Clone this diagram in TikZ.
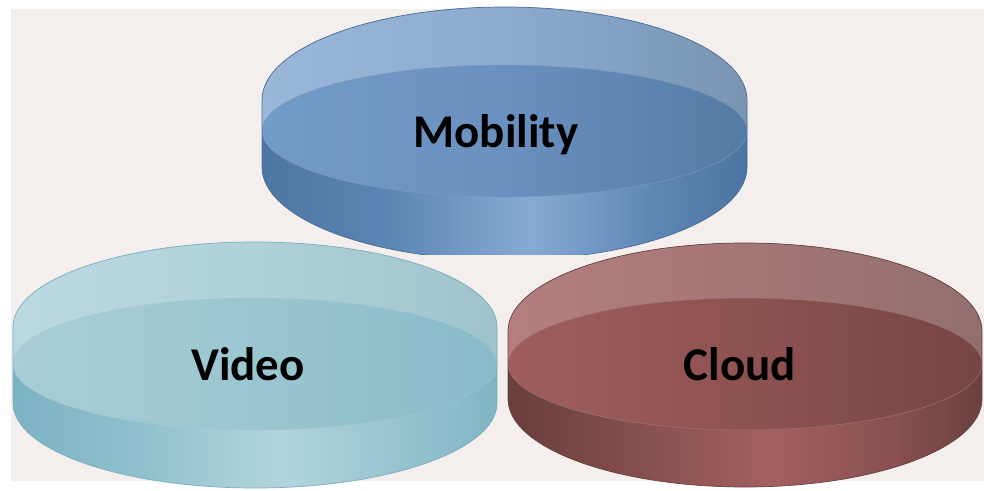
\documentclass[tikz,border=0pt]{standalone}
\usepackage{fontspec}
\setmainfont{Carlito}
\definecolor{bgc}{HTML}{F4EFEC}
% Mobility
\definecolor{mobA}{HTML}{4E76A2}\definecolor{mobB}{HTML}{5A84B3}\definecolor{mobC}{HTML}{87AAD4}\definecolor{mobD}{HTML}{5F88B7}\definecolor{mobE}{HTML}{4C74A0}
\definecolor{mobR1}{HTML}{9AB7D8}\definecolor{mobR2}{HTML}{8DABCF}\definecolor{mobR3}{HTML}{7994B3}
\definecolor{mobI1}{HTML}{739BC8}\definecolor{mobI2}{HTML}{6990BF}\definecolor{mobI3}{HTML}{557AA5}
\definecolor{mobL}{HTML}{4A6F9A}
% Video
\definecolor{vidA}{HTML}{7BB2C2}\definecolor{vidB}{HTML}{8FC0CD}\definecolor{vidC}{HTML}{B2D4DD}\definecolor{vidD}{HTML}{96C4D0}\definecolor{vidE}{HTML}{80B5C4}
\definecolor{vidR1}{HTML}{BCD8E0}\definecolor{vidR2}{HTML}{B0D1DA}\definecolor{vidR3}{HTML}{9FC3CC}
\definecolor{vidI1}{HTML}{A9CDD7}\definecolor{vidI2}{HTML}{9BC6D1}\definecolor{vidI3}{HTML}{88BAC8}
\definecolor{vidL}{HTML}{7AAEBE}
% Cloud
\definecolor{clA}{HTML}{6A3E3D}\definecolor{clB}{HTML}{824D4C}\definecolor{clC}{HTML}{A46060}\definecolor{clD}{HTML}{8A5150}\definecolor{clE}{HTML}{6C4040}
\definecolor{clR1}{HTML}{B47F7E}\definecolor{clR2}{HTML}{A57676}\definecolor{clR3}{HTML}{916F6E}
\definecolor{clI1}{HTML}{9F5E5D}\definecolor{clI2}{HTML}{8E5251}\definecolor{clI3}{HTML}{774444}
\definecolor{clL}{HTML}{694343}
\pgfdeclarehorizontalshading{mobside}{100bp}{color(0bp)=(mobA); color(25bp)=(mobA); color(37.5bp)=(mobB); color(52.5bp)=(mobC); color(65bp)=(mobD); color(75bp)=(mobE); color(100bp)=(mobE)}
\pgfdeclarehorizontalshading{mobrim}{100bp}{color(0bp)=(mobR1); color(25bp)=(mobR1); color(50bp)=(mobR2); color(75bp)=(mobR3); color(100bp)=(mobR3)}
\pgfdeclarehorizontalshading{mobin}{100bp}{color(0bp)=(mobI1); color(25bp)=(mobI1); color(50bp)=(mobI2); color(75bp)=(mobI3); color(100bp)=(mobI3)}
\pgfdeclarehorizontalshading{vidside}{100bp}{color(0bp)=(vidA); color(25bp)=(vidA); color(37.5bp)=(vidB); color(52.5bp)=(vidC); color(65bp)=(vidD); color(75bp)=(vidE); color(100bp)=(vidE)}
\pgfdeclarehorizontalshading{vidrim}{100bp}{color(0bp)=(vidR1); color(25bp)=(vidR1); color(50bp)=(vidR2); color(75bp)=(vidR3); color(100bp)=(vidR3)}
\pgfdeclarehorizontalshading{vidin}{100bp}{color(0bp)=(vidI1); color(25bp)=(vidI1); color(50bp)=(vidI2); color(75bp)=(vidI3); color(100bp)=(vidI3)}
\pgfdeclarehorizontalshading{clside}{100bp}{color(0bp)=(clA); color(25bp)=(clA); color(37.5bp)=(clB); color(52.5bp)=(clC); color(65bp)=(clD); color(75bp)=(clE); color(100bp)=(clE)}
\pgfdeclarehorizontalshading{clrim}{100bp}{color(0bp)=(clR1); color(25bp)=(clR1); color(50bp)=(clR2); color(75bp)=(clR3); color(100bp)=(clR3)}
\pgfdeclarehorizontalshading{clin}{100bp}{color(0bp)=(clI1); color(25bp)=(clI1); color(50bp)=(clI2); color(75bp)=(clI3); color(100bp)=(clI3)}
% #1 prefix, #2 cx, #3 top-center y, #4 bottom-center y, #5 rx, #6 ry, #7 inner cy, #8 inner ry
\newcommand\mydisc[8]{%
  \def\sil{(#2-#5,#3) -- (#2-#5,#4) arc[start angle=180,end angle=360,x radius=#5pt,y radius=#6pt] -- (#2+#5,#3) arc[start angle=0,end angle=180,x radius=#5pt,y radius=#6pt] -- cycle}%
  \shade[shading=#1side] \sil;
  \begin{scope}
    \clip (#2-#5-3,0) rectangle (#2+#5+3,#7);
    \shade[shading=#1rim] \sil;
  \end{scope}
  \begin{scope}
    \clip \sil;
    \shade[shading=#1in] (#2,#7) ellipse[x radius=#5pt,y radius=#8pt];
    \draw[#1L!70!white,line width=0.6pt,opacity=0.8] (#2,#7) ellipse[x radius=#5pt,y radius=#8pt];
  \end{scope}
  \draw[#1L,line width=0.7pt] \sil;
}
\begin{document}
\begin{tikzpicture}[x=1pt,y=-1pt,lbl/.style={font=\fontsize{47}{50}\selectfont\bfseries,text=black,inner sep=0pt,anchor=base}]
\useasboundingbox (0,0) rectangle (984,490);
\fill[white] (0,0) rectangle (984,490);
\fill[bgc] (11,9) rectangle (984,481);
% Mobility
\begin{scope}
  \clip (0,0) rectangle (984,254);
  \mydisc{mob}{504.5}{100}{167}{242.5}{93}{131}{66}
\end{scope}
% Video
\mydisc{vid}{255}{327}{403}{242}{85}{364}{66}
% Cloud
\mydisc{cl}{745}{331}{399}{237}{88}{364}{66}
\node[lbl] (mobility) at (496,147) {Mobility};
\node[lbl] (video) at (248,380) {Video};
\node[lbl] (cloud) at (740,380) {Cloud};
\end{tikzpicture}
\end{document}
